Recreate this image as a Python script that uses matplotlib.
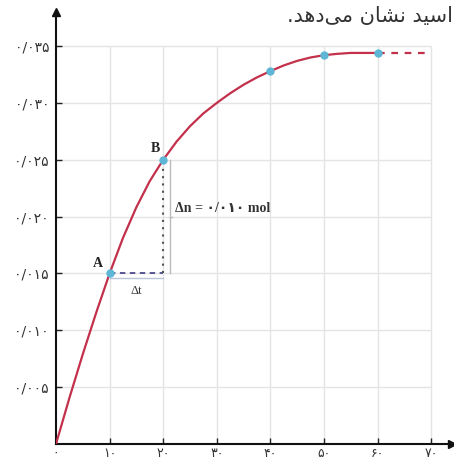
import matplotlib
matplotlib.use('Agg')
import matplotlib.pyplot as plt

# curve (time vs moles)
t = [0, 2.5, 5, 7.5, 10, 12.5, 15, 17.5, 20, 22.5, 25, 27.5, 30, 32.5,
     35, 37.5, 40, 42.5, 45, 47.5, 50, 52.5, 55, 57.5, 60]
n = [0, 0.00405, 0.0079, 0.01155, 0.0150, 0.01813, 0.02083, 0.02313, 0.0250,
     0.0266, 0.02795, 0.02908, 0.0300, 0.03085, 0.0316, 0.03225, 0.0328,
     0.0333, 0.0337, 0.0340, 0.0342, 0.03432, 0.0344, 0.0344, 0.0344]
pts_t = [10, 20, 40, 50, 60]
pts_n = [0.0150, 0.0250, 0.0328, 0.0342, 0.0344]
tail_t = [60, 70]
tail_n = [0.0344, 0.0344]

xticks = [0, 10, 20, 30, 40, 50, 60, 70]
xlabels = ['۰', '۱۰', '۲۰', '۳۰', '۴۰', '۵۰', '۶۰', '۷۰']
yticks = [0.005, 0.010, 0.015, 0.020, 0.025, 0.030, 0.035]
ylabels = ['۰/۰۰۵', '۰/۰۱۰', '۰/۰۱۵', '۰/۰۲۰', '۰/۰۲۵', '۰/۰۳۰', '۰/۰۳۵']

# caption fragment, pre-shaped (visual order) since matplotlib has no arabic shaping
caption = '.\uFEAA\uFEEB\uFEA9\uFEF0\uFEE3 \uFEE5\uFE8E\uFEB8\uFEE7 \uFEAA\uFEF4\uFEB3\uFE8D'

red = '#c3304b'
blue = '#5db6d6'
grid = '#e4e4e4'
txt = '#333333'

fig = plt.figure(figsize=(4.54, 4.62), dpi=100)
ax = fig.add_axes([56/454, 18/462, 396/454, 432/462])
ax.set_xlim(0, 73.9)
ax.set_ylim(0, 0.0380)

# grid
ax.vlines(xticks[1:], 0, 0.035, color=grid, lw=1, zorder=0)
ax.hlines(yticks, 0, 70, color=grid, lw=1, zorder=0)

# curve
ax.plot(t, n, color=red, lw=1.6, zorder=3)
ax.plot(tail_t, tail_n, color=red, lw=1.6, ls=(0, (3, 3)), zorder=3)
ax.plot(pts_t, pts_n, 'o', color=blue, ms=5, zorder=4)

# delta construction between A and B
ax.plot([10, 20], [0.015, 0.015], color='#4b4a8c', lw=1.3, ls=(0, (3, 2.5)), zorder=2)
ax.plot([20, 20], [0.015, 0.025], color='#555555', lw=1.5, ls=(0, (1, 2.5)), zorder=2)
ax.plot([10, 20], [0.0146, 0.0146], color='#b8c4d8', lw=1, zorder=1)
ax.plot([21.2, 21.2], [0.015, 0.025], color='#bbbbbb', lw=1, zorder=1)
ax.plot([21.2, 21.7], [0.020, 0.020], color='#bbbbbb', lw=1, zorder=1)

serif = ['Liberation Serif', 'DejaVu Sans']
ax.text(15, 0.0135, 'Δt', fontsize=9, color=txt, ha='center', va='center', family=serif)
ax.text(22.2, 0.0207, 'Δn = ۰/۰۱۰ mol', fontsize=10, color=txt, ha='left', va='center',
        family=serif, fontweight='bold')
ax.text(7.8, 0.0159, 'A', fontsize=10, color='#222222', ha='center', va='center',
        family=serif, fontweight='bold')
ax.text(18.5, 0.0260, 'B', fontsize=10, color='#222222', ha='center', va='center',
        family=serif, fontweight='bold')

# axes with arrows
for s in ['top', 'right']:
    ax.spines[s].set_visible(False)
for s in ['left', 'bottom']:
    ax.spines[s].set_linewidth(1.5)
    ax.spines[s].set_color('#111111')
ax.plot(0, 0.0380, '^', color='#111111', ms=6, clip_on=False, zorder=5)
ax.plot(73.9, 0, '>', color='#111111', ms=6, clip_on=False, zorder=5)

ax.set_xticks(xticks)
ax.set_xticklabels(xlabels, fontsize=9, color=txt)
ax.set_yticks(yticks)
ax.set_yticklabels(ylabels, fontsize=10, color=txt)
ax.tick_params(direction='in', length=4, width=1, colors='#222222', labelcolor=txt)
ax.tick_params(axis='x', pad=2)
ax.tick_params(axis='y', pad=5)

fig.text(0.997, 0.966, caption, fontsize=15, color=txt, ha='right', va='center', family='DejaVu Sans')

fig.savefig('out.png', dpi=100)
